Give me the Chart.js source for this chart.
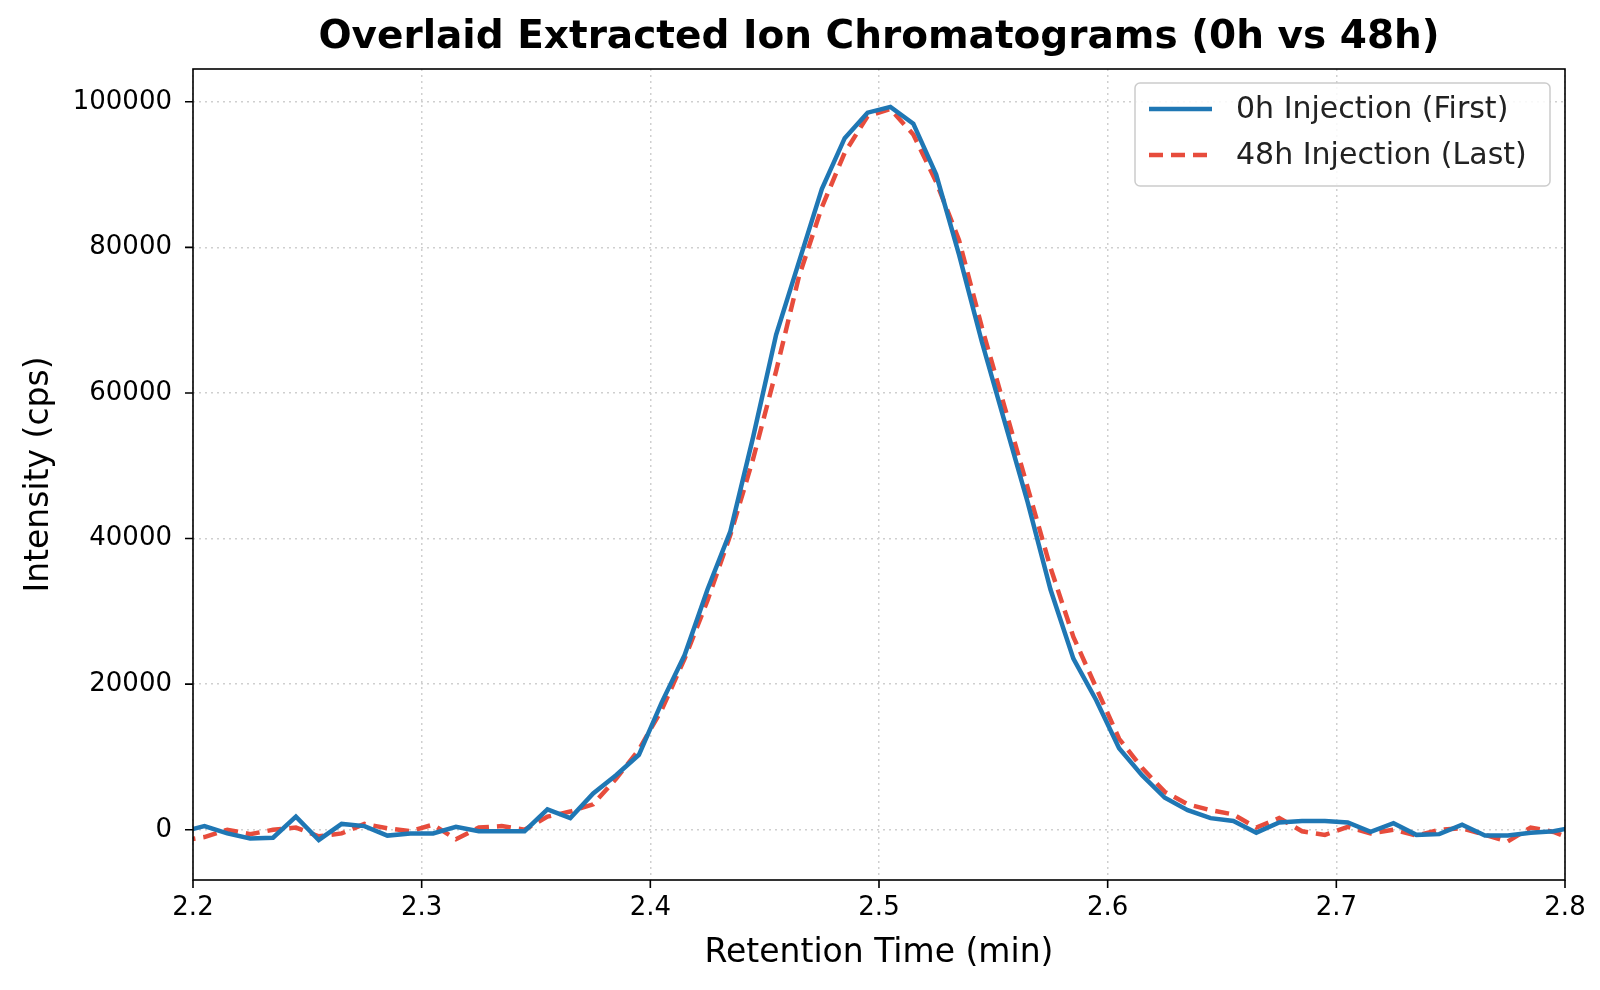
<!DOCTYPE html>
<html><head><meta charset="utf-8">
<script src="https://cdn.jsdelivr.net/npm/chart.js@4/dist/chart.umd.min.js"></script>
<style>html,body{margin:0;padding:0;background:#fff}#w{width:1600px;height:990px}</style>
</head><body><div id="w"><canvas id="c"></canvas></div>
<script>
const times = [2.195,2.205,2.215,2.225,2.235,2.245,2.255,2.265,2.275,2.285,2.295,2.305,2.315,2.325,2.335,2.345,2.355,2.365,2.375,2.385,2.395,2.405,2.415,2.425,2.435,2.445,2.455,2.465,2.475,2.485,2.495,2.505,2.515,2.525,2.535,2.545,2.555,2.565,2.575,2.585,2.595,2.605,2.615,2.625,2.635,2.645,2.655,2.665,2.675,2.685,2.695,2.705,2.715,2.725,2.735,2.745,2.755,2.765,2.775,2.785,2.795,2.805];
const first = [-300,500,-500,-1200,-1100,1800,-1400,800,500,-800,-500,-500,400,-200,-200,-200,2800,1600,5000,7500,10300,17500,24000,33000,41000,54000,68000,78000,88000,95000,98500,99300,97000,90000,79000,67000,56000,45000,33000,23500,17800,11200,7500,4400,2700,1600,1200,-400,1000,1200,1200,1000,-300,900,-700,-600,700,-800,-800,-400,-200,400];
const last = [-1500,-1000,0,-600,0,300,-900,-500,800,200,-200,700,-1300,300,500,0,1800,2500,3500,7000,11000,16500,23500,31500,40500,51000,63000,76000,85500,93000,98000,99000,95500,89000,81000,69000,58000,47000,36000,26500,19500,12500,8500,5200,3500,2700,2100,300,1600,-200,-700,400,-500,0,-800,0,200,-700,-1600,300,-300,-1500];
const xTicks = [2.2,2.3,2.4,2.5,2.6,2.7,2.8];
const yTicks = [0,20000,40000,60000,80000,100000];
const labels = ['0h Injection (First)','48h Injection (Last)'];
const F = 'DejaVu Sans';
const BLUE = '#1f77b4', RED = '#e74c3c';

const deco = {
  id:'deco',
  afterDraw(ch){
    const c = ch.ctx, a = ch.chartArea, x = ch.scales.x, y = ch.scales.y;
    c.save();
    c.strokeStyle='#000'; c.lineWidth=1.6;
    c.strokeRect(a.left,a.top,a.right-a.left,a.bottom-a.top);
    c.beginPath();
    xTicks.forEach(t=>{const p=x.getPixelForValue(t);c.moveTo(p,a.bottom);c.lineTo(p,a.bottom+8);});
    yTicks.forEach(t=>{const p=y.getPixelForValue(t);c.moveTo(a.left,p);c.lineTo(a.left-8,p);});
    c.stroke();
    c.fillStyle='#000'; c.font='bold 39px '+F; c.textAlign='center'; c.textBaseline='middle';
    c.fillText('Overlaid Extracted Ion Chromatograms (0h vs 48h)', (a.left+a.right)/2, 38);
    // legend
    const lx=1135, ly=83, lw=415, lh=103;
    c.fillStyle='rgba(255,255,255,0.85)'; c.strokeStyle='#ccc'; c.lineWidth=1.5;
    c.beginPath(); c.roundRect(lx,ly,lw,lh,5); c.fill(); c.stroke();
    c.font='30px '+F; c.textAlign='left'; c.fillStyle='#222';
    [[BLUE,[],4.5],[RED,[14,8],4.5]].forEach((s,i)=>{
      const yy = 109+i*46;
      c.strokeStyle=s[0]; c.lineWidth=s[2]; c.setLineDash(s[1]);
      c.beginPath(); c.moveTo(1149,yy); c.lineTo(1212,yy); c.stroke();
      c.setLineDash([]);
      c.fillText(labels[i],1236,yy+1);
    });
    c.restore();
  }
};

new Chart(document.getElementById('c'),{
  type:'line',
  data:{datasets:[
    {label:labels[0],data:times.map((t,i)=>({x:t,y:first[i]})),borderColor:BLUE,borderWidth:4.5,pointRadius:0,tension:0,fill:false},
    {label:labels[1],data:times.map((t,i)=>({x:t,y:last[i]})),borderColor:RED,borderWidth:4.5,borderDash:[14,8],pointRadius:0,tension:0,fill:false}
  ]},
  options:{
    responsive:true,maintainAspectRatio:false,animation:false,
    layout:{padding:{left:0,right:35,top:69,bottom:0}},
    plugins:{legend:{display:false},tooltip:{enabled:false}},
    scales:{
      x:{type:'linear',min:2.2,max:2.8,
        afterBuildTicks:s=>{s.ticks=xTicks.map(v=>({value:v}));},
        afterFit:s=>{s.height=110;},
        ticks:{callback:v=>v.toFixed(1),font:{family:F,size:26},color:'#000',padding:13,maxRotation:0},
        grid:{color:'#cfcfcf',lineWidth:1.5,drawTicks:false},
        border:{display:false,dash:[2,4]},
        title:{display:true,text:'Retention Time (min)',font:{family:F,size:33},color:'#000',padding:{top:4,bottom:17}}
      },
      y:{min:-6900,max:104500,
        afterBuildTicks:s=>{s.ticks=yTicks.map(v=>({value:v}));},
        afterFit:s=>{s.width=193;},
        ticks:{callback:v=>String(v),font:{family:F,size:26},color:'#000',padding:21},
        grid:{color:'#cfcfcf',lineWidth:1.5,drawTicks:false},
        border:{display:false,dash:[2,4]},
        title:{display:true,text:'Intensity (cps)',font:{family:F,size:33},color:'#000',padding:{top:20,bottom:0}}
      }
    }
  },
  plugins:[deco]
});
</script></body></html>
